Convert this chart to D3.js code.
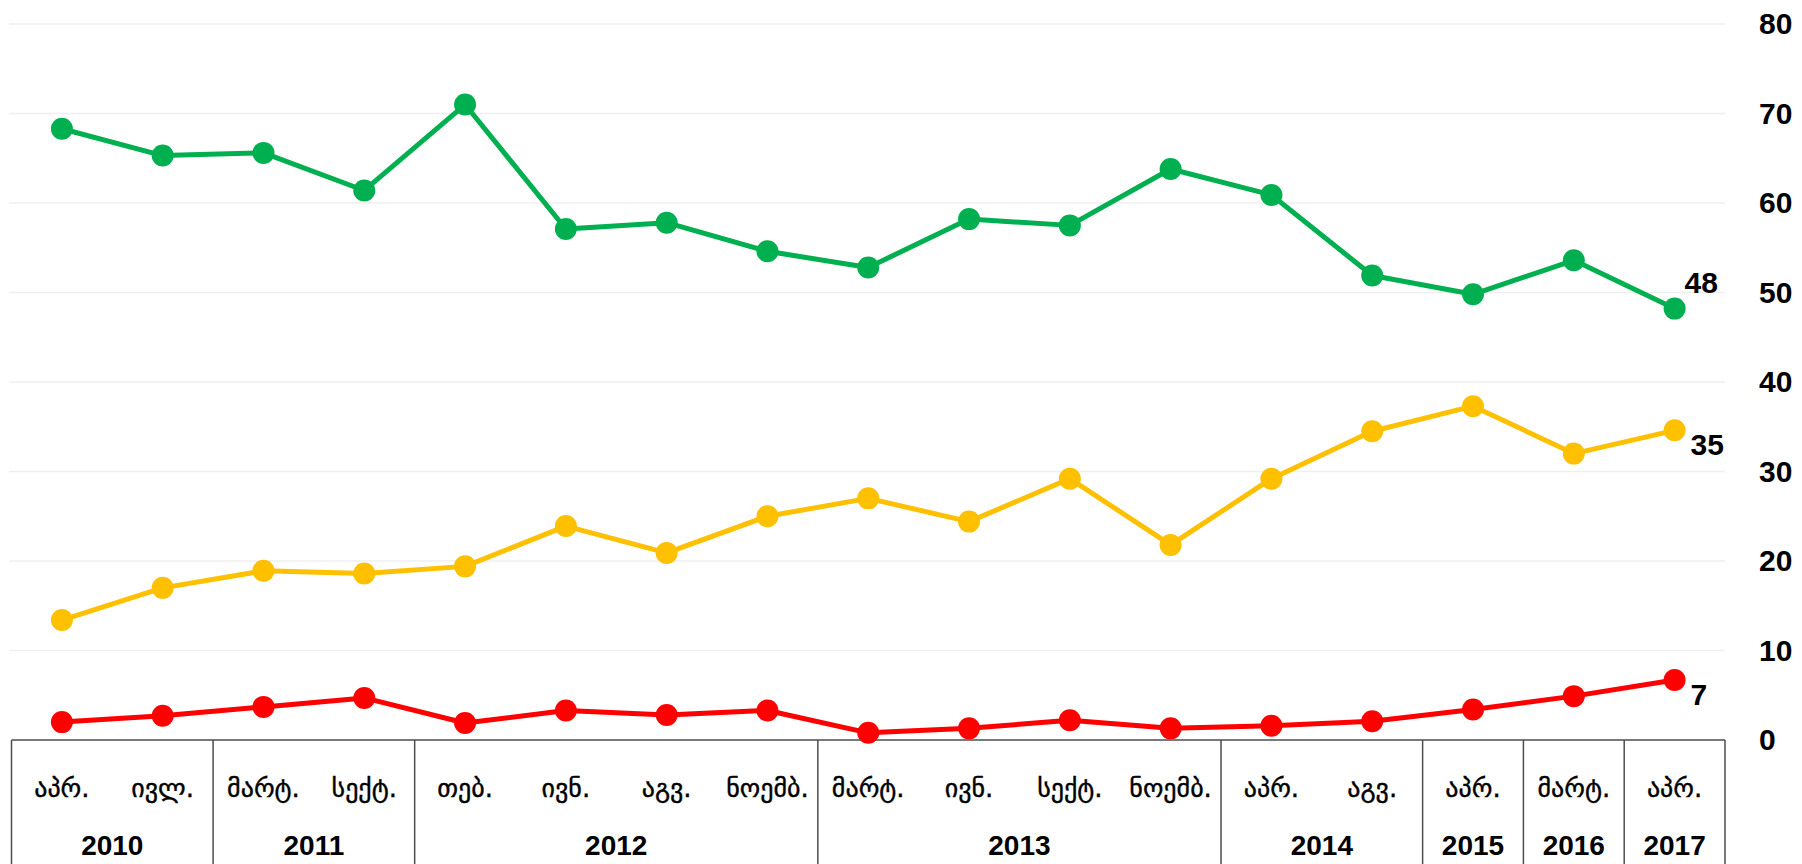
<!DOCTYPE html>
<html>
<head>
<meta charset="utf-8">
<script src="https://cdn.jsdelivr.net/npm/d3@7"></script>
<style>
  html, body { margin: 0; padding: 0; background: #ffffff; overflow: hidden; }
  svg { display: block; }
</style>
</head>
<body>
<svg id="chart" width="1802" height="864"></svg>
<script>
// ---- data ----
const months = ["აპრ.","ივლ.","მარტ.","სექტ.","თებ.","ივნ.","აგვ.","ნოემბ.","მარტ.","ივნ.","სექტ.","ნოემბ.","აპრ.","აგვ.","აპრ.","მარტ.","აპრ."];
const years = ["2010","2011","2012","2013","2014","2015","2016","2017"];
const yearCounts = [2, 2, 4, 4, 2, 1, 1, 1];
const greenValues  = [68.3, 65.3, 65.6, 61.4, 71.0, 57.1, 57.8, 54.6, 52.8, 58.2, 57.5, 63.8, 60.9, 51.9, 49.8, 53.6, 48.2];
const yellowValues = [13.4, 17.0, 18.9, 18.6, 19.4, 23.9, 20.9, 25.0, 27.0, 24.4, 29.2, 21.8, 29.2, 34.5, 37.3, 32.0, 34.6];
const redValues    = [2.0, 2.7, 3.7, 4.7, 1.9, 3.3, 2.8, 3.3, 0.8, 1.3, 2.2, 1.3, 1.6, 2.1, 3.4, 4.9, 6.7];
const yTicks = [0, 10, 20, 30, 40, 50, 60, 70, 80];

(function () {
// ---- layout ----
const W = 1802, H = 864;
const pLeft = 11.5, pRight = 1725, pTop = 24, pBottom = 740;
const svg = d3.select("#chart");

const idx = months.map((m, i) => i);
const x = d3.scaleBand().domain(idx).range([pLeft, pRight]).paddingInner(0).paddingOuter(0);
const y = d3.scaleLinear().domain([0, 80]).range([pBottom, pTop]);
const cx = i => x(i) + x.bandwidth() / 2;

// gridlines
svg.append("g").selectAll("line")
  .data(yTicks.filter(t => t > 0))
  .join("line")
  .attr("x1", 9).attr("x2", pRight)
  .attr("y1", d => y(d)).attr("y2", d => y(d))
  .attr("stroke", "#efefef").attr("stroke-width", 1.5);

// right y-axis labels
const yAxis = d3.axisRight(y).tickValues(yTicks).tickSize(0).tickPadding(0).tickFormat(d3.format("d"));
const gy = svg.append("g").attr("transform", `translate(${1759},0)`).call(yAxis);
gy.select(".domain").remove();
gy.selectAll("text")
  .attr("font-family", "'Liberation Sans', Arial, sans-serif")
  .attr("font-weight", "bold")
  .attr("font-size", 30)
  .attr("fill", "#000");

// table (category axis)
const tableColor = "#4d4d4d";
const tg = svg.append("g");
tg.append("line").attr("x1", pLeft).attr("x2", pRight).attr("y1", pBottom).attr("y2", pBottom)
  .attr("stroke", tableColor).attr("stroke-width", 1.5);
let start = 0;
const groups = years.map((yr, k) => {
  const g = { year: yr, s: start, e: start + yearCounts[k] - 1 };
  start += yearCounts[k];
  return g;
});
const boundaries = [x(0)].concat(groups.map(g => x(g.e) + x.bandwidth()));
tg.selectAll("line.v").data(boundaries).join("line").attr("class", "v")
  .attr("x1", d => d).attr("x2", d => d)
  .attr("y1", pBottom).attr("y2", H)
  .attr("stroke", tableColor).attr("stroke-width", 1.5);

tg.selectAll("text.month").data(months).join("text").attr("class", "month")
  .attr("x", (d, i) => cx(i)).attr("y", 797)
  .attr("text-anchor", "middle")
  .attr("font-family", "'DejaVu Sans', sans-serif")
  .attr("font-size", 26)
  .attr("fill", "#000")
  .attr("stroke", "#000")
  .attr("stroke-width", 0.4)
  .text(d => d);

tg.selectAll("text.year").data(groups).join("text").attr("class", "year")
  .attr("x", g => (x(g.s) + x(g.e) + x.bandwidth()) / 2).attr("y", 855)
  .attr("text-anchor", "middle")
  .attr("font-family", "'Liberation Sans', Arial, sans-serif")
  .attr("font-weight", "bold")
  .attr("font-size", 28)
  .attr("fill", "#000")
  .text(g => g.year);

// series
const series = [
  { name: "green", values: greenValues, color: "#00b050", label: "above" },
  { name: "yellow", values: yellowValues, color: "#ffc000", label: "below" },
  { name: "red", values: redValues, color: "#ff0000", label: "below" }
];
const line = d3.line().x((d, i) => cx(i)).y(d => y(d));

series.forEach(s => {
  const g = svg.append("g");
  g.append("path").datum(s.values)
    .attr("d", line)
    .attr("fill", "none")
    .attr("stroke", s.color)
    .attr("stroke-width", 5)
    .attr("stroke-linejoin", "round");
  g.selectAll("circle").data(s.values).join("circle")
    .attr("cx", (d, i) => cx(i)).attr("cy", d => y(d))
    .attr("r", 11)
    .attr("fill", s.color);
  const last = s.values.length - 1;
  g.append("text")
    .attr("x", cx(last) + (s.label === "above" ? 10 : 16))
    .attr("y", y(s.values[last]) + (s.label === "above" ? -16 : 25))
    .attr("font-family", "'Liberation Sans', Arial, sans-serif")
    .attr("font-weight", "bold")
    .attr("font-size", 30)
    .attr("fill", "#000")
    .text(Math.round(s.values[last]));
});
})();
</script>
</body>
</html>
